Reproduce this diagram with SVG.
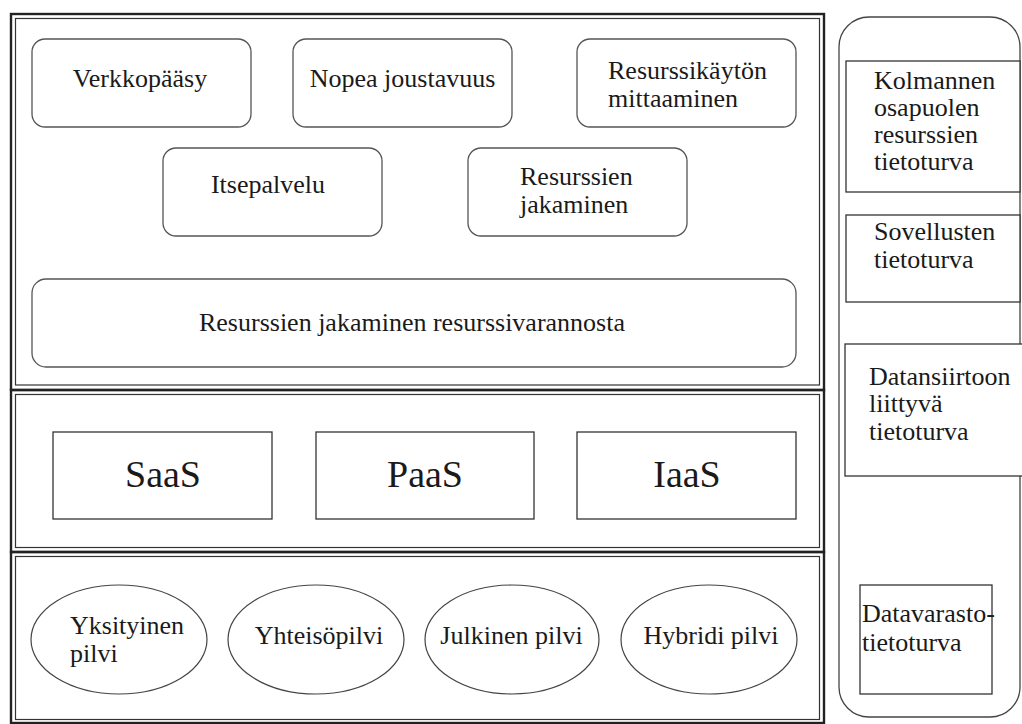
<svg xmlns="http://www.w3.org/2000/svg" width="1022" height="724" viewBox="0 0 1022 724">
<style>
.bg{fill:#ffffff}
.outer{fill:none;stroke:#222;stroke-width:2.4}
.inner{fill:none;stroke:#333;stroke-width:1.2}
.rr{fill:#fff;stroke:#555;stroke-width:1.3}
.box{fill:#fff;stroke:#333;stroke-width:1.3}
.ell{fill:#fff;stroke:#444;stroke-width:1.2}
text{font-family:"Liberation Serif","Times New Roman",serif;font-size:26px;fill:#1a1a1a}
.c{text-anchor:middle}
.big{font-size:38px}
</style>
<rect class="bg" x="0" y="0" width="1022" height="724"/>

<g id="panel-characteristics">
  <rect class="outer" x="11" y="14" width="813" height="376"/>
  <rect class="inner" x="15.5" y="18.5" width="804" height="366.5"/>
</g>
<g id="panel-service-models">
  <rect class="outer" x="11" y="390" width="813" height="162"/>
  <rect class="inner" x="15.5" y="394.5" width="804" height="153"/>
</g>
<g id="panel-deployment-models">
  <rect class="outer" x="11" y="552" width="813" height="171"/>
  <rect class="inner" x="15.5" y="556.5" width="804" height="163"/>
</g>

<g id="node-verkkopaasy">
  <rect class="rr" x="32" y="39" width="219" height="88" rx="13"/>
  <text class="c" x="140" y="87">Verkkopääsy</text>
</g>
<g id="node-nopea">
  <rect class="rr" x="293" y="39" width="219" height="88" rx="13"/>
  <text class="c" x="402.5" y="87">Nopea joustavuus</text>
</g>
<g id="node-mittaaminen">
  <rect class="rr" x="577" y="39" width="219" height="88" rx="13"/>
  <text x="608" y="79">Resurssikäytön</text>
  <text x="608" y="107">mittaaminen</text>
</g>
<g id="node-itsepalvelu">
  <rect class="rr" x="163" y="148" width="219" height="88" rx="13"/>
  <text class="c" x="268" y="193">Itsepalvelu</text>
</g>
<g id="node-jakaminen">
  <rect class="rr" x="468" y="148" width="219" height="88" rx="13"/>
  <text x="520" y="185">Resurssien</text>
  <text x="520" y="213">jakaminen</text>
</g>
<g id="node-resurssivaranto">
  <rect class="rr" x="32" y="279" width="764" height="88" rx="14"/>
  <text class="c" x="412" y="331">Resurssien jakaminen resurssivarannosta</text>
</g>

<g id="node-saas">
  <rect class="box" x="53" y="432" width="219" height="87"/>
  <text class="c big" x="163" y="487">SaaS</text>
</g>
<g id="node-paas">
  <rect class="box" x="316" y="432" width="218" height="87"/>
  <text class="c big" x="425" y="487">PaaS</text>
</g>
<g id="node-iaas">
  <rect class="box" x="577" y="432" width="219" height="87"/>
  <text class="c big" x="687" y="487">IaaS</text>
</g>

<g id="node-yksityinen">
  <ellipse class="ell" cx="119" cy="639.5" rx="88" ry="54.5"/>
  <text x="70" y="634">Yksityinen</text>
  <text x="70" y="662">pilvi</text>
</g>
<g id="node-yhteiso">
  <ellipse class="ell" cx="316" cy="639.5" rx="88" ry="54.5"/>
  <text class="c" x="319" y="644">Yhteisöpilvi</text>
</g>
<g id="node-julkinen">
  <ellipse class="ell" cx="512" cy="639.5" rx="87" ry="54.5"/>
  <text class="c" x="511.5" y="644">Julkinen pilvi</text>
</g>
<g id="node-hybridi">
  <ellipse class="ell" cx="709" cy="639.5" rx="88" ry="54.5"/>
  <text class="c" x="711" y="644">Hybridi pilvi</text>
</g>

<g id="panel-security">
  <rect class="rr" x="839" y="17" width="181" height="700" rx="30" style="stroke:#444"/>
</g>
<g id="node-kolmannen">
  <rect class="box" x="846" y="61" width="174" height="131"/>
  <text x="874" y="89">Kolmannen</text>
  <text x="874" y="116">osapuolen</text>
  <text x="874" y="143">resurssien</text>
  <text x="874" y="170">tietoturva</text>
</g>
<g id="node-sovellusten">
  <rect class="box" x="846" y="215" width="174" height="87"/>
  <text x="874" y="240">Sovellusten</text>
  <text x="874" y="268">tietoturva</text>
</g>
<g id="node-datansiirto">
  <rect class="box" x="845" y="344" width="180" height="132"/>
  <text x="869" y="385">Datansiirtoon</text>
  <text x="869" y="412">liittyvä</text>
  <text x="869" y="440">tietoturva</text>
</g>
<g id="node-datavarasto">
  <rect class="box" x="860" y="585" width="132" height="109"/>
  <text x="862" y="622">Datavarasto-</text>
  <text x="862" y="651">tietoturva</text>
</g>

<g id="connectors"></g>
</svg>
